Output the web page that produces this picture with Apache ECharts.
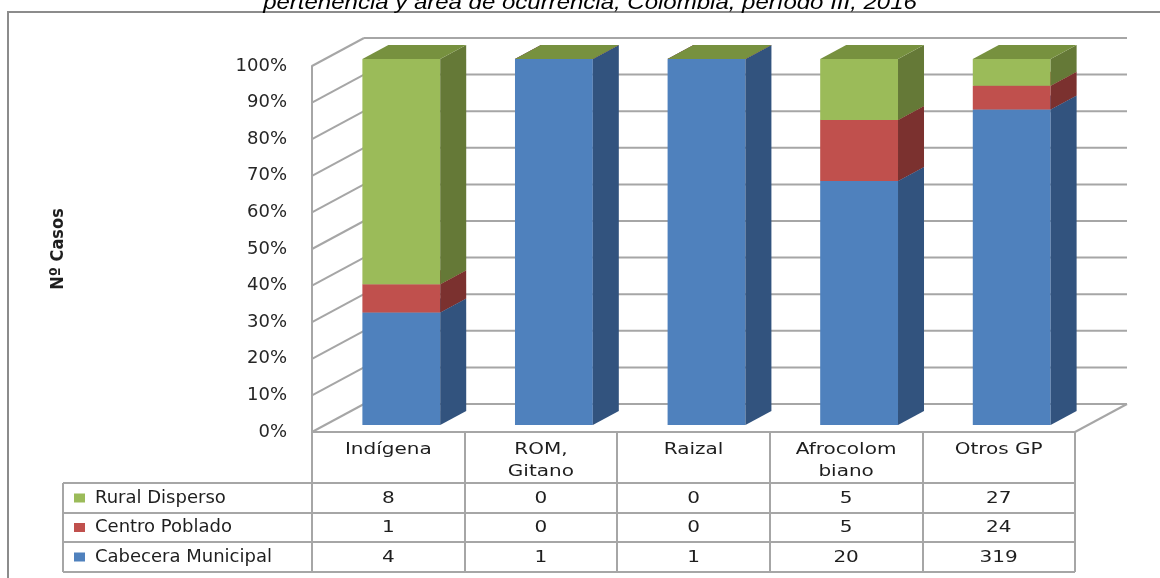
<!DOCTYPE html>
<html>
<head>
<meta charset="utf-8">
<title>Casos por pertenencia y área de ocurrencia</title>
<script src="https://cdn.jsdelivr.net/npm/echarts@6/dist/echarts.min.js"></script>
<style>
  html, body { margin: 0; padding: 0; background: #fff; }
  #grafico { width: 1160px; height: 578px; }
</style>
</head>
<body>
<div id="grafico"></div>
<script>
var categorias = ['Indígena', 'ROM,\nGitano', 'Raizal', 'Afrocolom\nbiano', 'Otros GP'];
var cabeceraMunicipal = [4, 1, 1, 20, 319];
var centroPoblado = [1, 0, 0, 5, 24];
var ruralDisperso = [8, 0, 0, 5, 27];
var ticksY = [0, 10, 20, 30, 40, 50, 60, 70, 80, 90, 100];
var titulo = 'pertenencia y área de ocurrencia, Colombia, período III, 2016';

// profundidad del "3D" (pixeles)
var FONDO_X = 52, FONDO_Y = -28;
var GRIS = '#a6a6a6';
var TEXTO = '#1e1e1e';

var areas = [
    {name: 'Cabecera Municipal', valores: cabeceraMunicipal},
    {name: 'Centro Poblado', valores: centroPoblado},
    {name: 'Rural Disperso', valores: ruralDisperso}
];
var colores = {
    'Cabecera Municipal': {frente: '#4F81BD', lado: '#32537E', tapa: '#3E6A9E'},
    'Centro Poblado': {frente: '#C0504D', lado: '#7B312F', tapa: '#9C403D'},
    'Rural Disperso': {frente: '#9BBB59', lado: '#657937', tapa: '#77913F'}
};

var totales = categorias.map(function (c, i) {
    return cabeceraMunicipal[i] + centroPoblado[i] + ruralDisperso[i];
});

function linea(x1, y1, x2, y2) {
    return {type: 'line', shape: {x1: x1, y1: y1, x2: x2, y2: y2},
        style: {stroke: GRIS, lineWidth: 2}};
}

function caja(col) {
    return function (params, api) {
        var i = api.value(0);
        var abajo = api.coord([i, api.value(1)]);
        var arriba = api.coord([i, api.value(2)]);
        var ancho = api.size([1, 0])[0] * 0.51;
        var x0 = abajo[0] + FONDO_X * 0.25 - ancho / 2;
        var x1 = x0 + ancho;
        var yb = abajo[1] + FONDO_Y * 0.25;
        var yt = arriba[1] + FONDO_Y * 0.25;
        var px = FONDO_X * 0.5, py = FONDO_Y * 0.5;
        return {
            type: 'group',
            children: [
                {type: 'polygon', shape: {points: [[x0, yb], [x1, yb], [x1, yt], [x0, yt]]},
                    style: {fill: col.frente}},
                {type: 'polygon', shape: {points: [[x1, yb], [x1 + px, yb + py], [x1 + px, yt + py], [x1, yt]]},
                    style: {fill: col.lado}},
                {type: 'polygon', shape: {points: [[x0, yt], [x1, yt], [x1 + px, yt + py], [x0 + px, yt + py]]},
                    style: {fill: col.tapa}}
            ]
        };
    };
}

// barras apiladas al 100%
var base = categorias.map(function () { return 0; });
var series = areas.map(function (a) {
    var datos = a.valores.map(function (v, i) {
        var ini = base[i];
        var fin = ini + v / totales[i] * 100;
        base[i] = fin;
        return [i, ini, fin];
    });
    return {
        name: a.name,
        type: 'custom',
        clip: false,
        z: 3,
        itemStyle: {color: colores[a.name].frente},
        renderItem: caja(colores[a.name]),
        data: datos
    };
});

// paredes: lineas de division del fondo y del lado izquierdo
series.unshift({
    type: 'custom',
    silent: true,
    clip: false,
    z: 1,
    renderItem: function (params, api) {
        var sis = params.coordSys;
        var v = api.value(1);
        var y = api.coord([0, v])[1];
        var x0 = sis.x, x1 = sis.x + sis.width;
        var hijos = [
            linea(x0, y, x0 + FONDO_X, y + FONDO_Y),
            linea(x0 + FONDO_X, y + FONDO_Y, x1 + FONDO_X, y + FONDO_Y)
        ];
        if (v === 0) {
            hijos.push(linea(x1, y, x1 + FONDO_X, y + FONDO_Y));
        }
        return {type: 'group', children: hijos};
    },
    data: ticksY.map(function (v) { return [0, v]; })
});

// tabla de datos bajo el eje
var filasY = [483, 513, 542, 572];
var filas = [ruralDisperso, centroPoblado, cabeceraMunicipal];
function texto(x, y, s, va) {
    return {
        type: 'text', x: x, y: y, scaleX: 1.25,
        style: {
            text: s, fill: TEXTO, font: '16px "DejaVu Sans", sans-serif',
            align: 'center', textAlign: 'center',
            verticalAlign: va, textVerticalAlign: va, lineHeight: 22
        }
    };
}
series.push({
    type: 'custom',
    silent: true,
    clip: false,
    z: 2,
    renderItem: function (params, api) {
        var i = api.value(0);
        var sis = params.coordSys;
        var x = api.coord([i, 0])[0];
        var hijos = [texto(x, 439, categorias[i], 'top')];
        filas.forEach(function (f, k) {
            hijos.push(texto(x, (filasY[k] + filasY[k + 1]) / 2 + 0.5, String(f[i]), 'middle'));
        });
        if (params.dataIndex === 0) {
            var der = sis.x + sis.width;
            filasY.forEach(function (y) { hijos.push(linea(63, y, der, y)); });
            hijos.push(linea(63, filasY[0], 63, filasY[3]));
        }
        return {type: 'group', children: hijos};
    },
    data: categorias.map(function (c, i) { return [i, 0]; })
});

var myChart = echarts.init(document.getElementById('grafico'));

var option = {
    animation: false,
    backgroundColor: '#fff',
    graphic: [
        {
            type: 'rect', z: -10, silent: true,
            shape: {x: 8, y: 12, width: 1300, height: 800},
            style: {fill: 'none', stroke: '#8c8c8c', lineWidth: 2}
        },
        {
            type: 'text', x: 590, y: 13, scaleX: 1.2, silent: true,
            style: {
                text: titulo, fill: '#000',
                font: 'italic 20px "Liberation Sans", Arial, sans-serif',
                align: 'center', textAlign: 'center',
                verticalAlign: 'bottom', textVerticalAlign: 'bottom'
            }
        }
    ],
    legend: {
        orient: 'vertical',
        left: 74,
        top: 488,
        padding: 0,
        itemGap: 9.5,
        itemWidth: 11,
        itemHeight: 9,
        icon: 'rect',
        selectedMode: false,
        data: ['Rural Disperso', 'Centro Poblado', 'Cabecera Municipal'],
        textStyle: {
            fontFamily: 'DejaVu Sans', fontSize: 18, color: TEXTO,
            lineHeight: 20, padding: [0, 0, 0, 5]
        }
    },
    grid: {
        left: 312, top: 66, width: 763, height: 366,
        containLabel: false, outerBoundsMode: 'none'
    },
    xAxis: {
        type: 'category',
        data: categorias,
        axisLabel: {show: false},
        axisLine: {show: true, lineStyle: {color: GRIS, width: 2}},
        axisTick: {show: true, interval: 0, length: 140, lineStyle: {color: GRIS, width: 2}},
        splitLine: {show: false}
    },
    yAxis: {
        type: 'value',
        min: 0,
        max: 100,
        interval: 10,
        name: 'Nº Casos',
        nameLocation: 'middle',
        nameGap: 245,
        nameRotate: 90,
        nameTextStyle: {
            fontFamily: '"Liberation Sans Narrow", "DejaVu Sans Condensed", sans-serif',
            fontWeight: 'bold', fontSize: 18, color: TEXTO
        },
        axisLabel: {
            formatter: '{value}%', margin: 25,
            fontFamily: 'DejaVu Sans', fontSize: 18, color: '#262626'
        },
        axisLine: {show: true, lineStyle: {color: GRIS, width: 2}},
        axisTick: {show: false},
        splitLine: {show: false}
    },
    series: series
};

myChart.setOption(option);
</script>
</body>
</html>
